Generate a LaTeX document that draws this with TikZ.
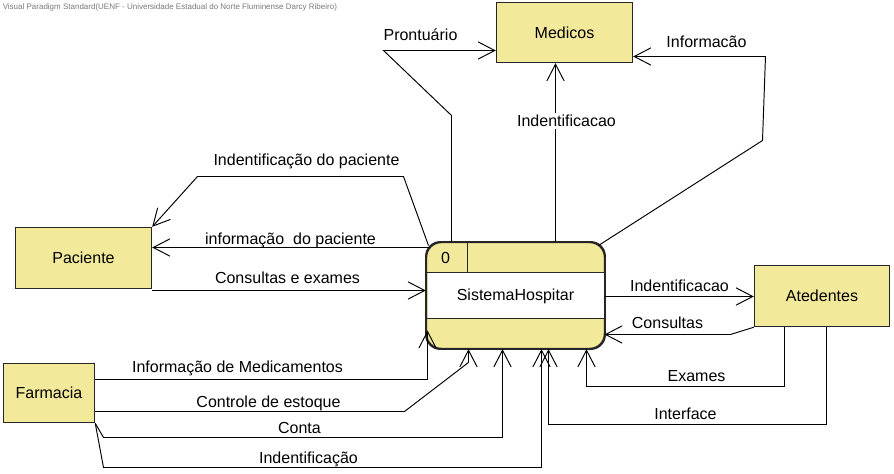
\documentclass[tikz,border=0pt]{standalone}
\usepackage{fontspec}
\setmainfont{Liberation Sans}
\usetikzlibrary{arrows.meta}
\definecolor{boxfill}{RGB}{243,233,155}
\definecolor{wm}{RGB}{120,120,120}
\begin{document}
\begin{tikzpicture}[x=0.75pt,y=-0.75pt,
  every node/.style={font=\fontsize{12}{14}\selectfont},
  entity/.style={draw=black!85, line width=1.1pt, fill=boxfill, inner sep=0pt},
  procbox/.style={draw=black!85, line width=1.1pt, fill=boxfill, inner sep=0pt, rounded corners=11pt,
    minimum width=133.5pt, minimum height=79.5pt},
  flow/.style={draw=black, line width=0.72pt, -{Straight Barb[length=12.5pt,width=13pt,line width=0.72pt]}},
  lab/.style={anchor=base, inner sep=0pt},
]
\useasboundingbox (-0.5,-0.5) rectangle (893.5,473.5);

% watermark
\node[anchor=west, inner sep=0pt, text=wm, font=\fontsize{6}{7}\selectfont] (wmark) at (2,7)
  {Visual Paradigm Standard(UENF - Universidade Estadual do Norte Fluminense Darcy Ribeiro)};

% entities
\node[entity, minimum width=102pt, minimum height=45pt] (med) at (564,32) {Medicos};
\node[entity, minimum width=102pt, minimum height=45.75pt] (pac) at (83,257.5) {Paciente};
\node[entity, minimum width=68.25pt, minimum height=44.25pt] (farm) at (48.5,392.5) {Farmacia};
\node[entity, minimum width=101.25pt, minimum height=45.75pt] (ate) at (821.5,295.5) {Atedentes};

% process
\node[procbox] (proc) at (515,295) {};
\fill[white] (427,272) rectangle (603,318);
\draw[black!85, line width=1.1pt] (proc.west |- 0,272) -- (proc.east |- 0,272);
\draw[black!85, line width=1.1pt] (proc.west |- 0,318) -- (proc.east |- 0,318);
\draw[black!85, line width=1.1pt] (467,0 |- proc.north) -- (467,272);
\draw[black!85, line width=1.1pt, rounded corners=11pt] (proc.north west) rectangle (proc.south east);
\node (pnum) at (445,257) {0};
\node (pname) at (515,295.5) {SistemaHospitar};

% connectors to Medicos
\draw[flow] (451,0 |- proc.north) -- (451,115) -- (383,50) -- (med.west |- 0,50);
\node[lab] (l1) at (420,40) {Prontuário};
\draw[flow] (555,0 |- proc.north) -- (555,0 |- med.south);
\node[lab, fill=white, inner sep=1.5pt] (l2) at (566,126) {Indentificacao};
\draw[flow] (598,245) -- (762,140) -- (765,56) -- (med.east |- 0,56);
\node[lab] (l3) at (706,47) {Informacão};

% connectors to Paciente
\draw[flow] (428,245) -- (403,176) -- (197,176) -- (pac.north east);
\node[lab] (l4) at (306,165) {Indentificação do paciente};
\draw[flow] (429,247) -- (pac.east |- 0,247);
\node[lab] (l5) at (290,244) {informação\ \ do paciente};
\draw[flow] (pac.east |- 0,290) -- (proc.west |- 0,290);
\node[lab] (l6) at (287,283) {Consultas e exames};

% connectors to Atedentes
\draw[flow] (proc.east |- 0,296) -- (ate.west |- 0,296);
\node[lab] (l7) at (679,291) {Indentificacao};
\draw[flow] (ate.south west) -- (730,334) -- (604,334);
\node[lab] (l8) at (667,328) {Consultas};
\draw[flow] (784,0 |- ate.south) -- (784,386) -- (586,386) -- (586,0 |- proc.south);
\node[lab] (l9) at (696,381) {Exames};
\draw[flow] (826,0 |- ate.south) -- (826,424) -- (548,424) -- (548,0 |- proc.south);
\node[lab] (l10) at (685,419) {Interface};

% connectors from Farmacia
\draw[flow] (farm.east |- 0,379) -- (427,379) -- (427,330);
\node[lab] (l11) at (237,372) {Informação de Medicamentos};
\draw[flow] (farm.east |- 0,411) -- (404,411) -- (468,362) -- (468,0 |- proc.south);
\node[lab] (l12) at (268,407) {Controle de estoque};
\draw[flow] (farm.south east) -- (103,437) -- (502,437) -- (502,0 |- proc.south);
\node[lab] (l13) at (299,433) {Conta};
\draw[flow] (farm.south east) -- (103,467) -- (541,467) -- (541,0 |- proc.south);
\node[lab] (l14) at (308,463) {Indentificação};
\end{tikzpicture}
\end{document}
